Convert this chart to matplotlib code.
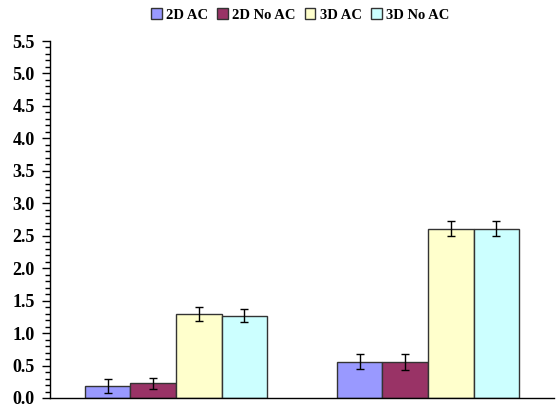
import matplotlib
matplotlib.use("Agg")
import matplotlib.pyplot as plt
import numpy as np
from matplotlib.ticker import MultipleLocator

plt.rcParams['font.family'] = ['Liberation Serif', 'DejaVu Serif']
plt.rcParams['font.weight'] = 'bold'

series = ["2D AC", "2D No AC", "3D AC", "3D No AC"]
colors = ["#9999FF", "#993366", "#FFFFCC", "#CCFFFF"]
values = [
    [0.19, 0.56],
    [0.225, 0.56],
    [1.295, 2.61],
    [1.27, 2.61],
]
errors = [
    [0.11, 0.12],
    [0.09, 0.125],
    [0.105, 0.11],
    [0.105, 0.12],
]

fig = plt.figure(figsize=(5.58, 4.12), dpi=100)
ax = fig.add_axes([50 / 558, (412 - 398) / 412, 504 / 558, (398 - 41) / 412])

n_groups = len(values[0])
width = 0.181
x = np.arange(n_groups) + 0.5
handles = []
for i, (name, col) in enumerate(zip(series, colors)):
    pos = x + (i - 1.5) * width
    h = ax.bar(pos, values[i], width=width, color=col, edgecolor="#333333",
               linewidth=1.0, label=name, zorder=2)
    ax.errorbar(pos, values[i], yerr=errors[i], fmt="none", ecolor="black",
                elinewidth=1.0, capsize=3, capthick=1.0, zorder=3)
    handles.append(h)

ax.set_xlim(0, 2)
ax.set_ylim(0, 5.5)
ax.yaxis.set_major_locator(MultipleLocator(0.5))
ax.yaxis.set_minor_locator(MultipleLocator(0.1))
ax.yaxis.set_major_formatter(plt.FormatStrFormatter("%.1f"))
ax.tick_params(axis="y", which="major", direction="out", length=6, width=1,
               labelsize=13, pad=5)
ax.tick_params(axis="y", which="minor", direction="out", length=3.5, width=1)
ax.tick_params(axis="x", which="both", bottom=False, labelbottom=False)
for lbl in ax.get_yticklabels():
    lbl.set_fontweight("bold")

ax.spines["top"].set_visible(False)
ax.spines["right"].set_visible(False)
ax.spines["left"].set_linewidth(1)
ax.spines["bottom"].set_linewidth(1)

fig.legend(handles=handles, labels=series, loc="center",
           bbox_to_anchor=(300 / 558, 1 - 15 / 412), ncol=4, frameon=False,
           prop={"weight": "bold", "size": 10.5}, handlelength=0.75,
           handleheight=0.75, handletextpad=0.3, columnspacing=0.6)

fig.savefig("out.png", dpi=100)
